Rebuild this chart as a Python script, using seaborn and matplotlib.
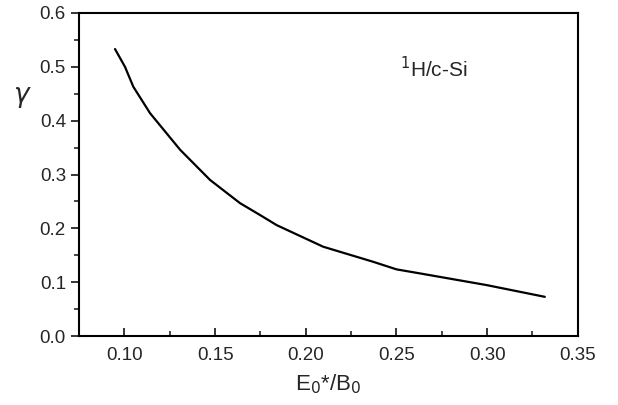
import pandas as pd
import matplotlib
matplotlib.use("Agg")
import matplotlib.pyplot as plt
import seaborn as sns

# curve
ratio = [0.0948, 0.1003, 0.1049, 0.1141, 0.1307, 0.1472, 0.1637, 0.1747, 0.184,
         0.2096, 0.2372, 0.250, 0.2629, 0.2997, 0.3318]
gamma = [0.533, 0.500, 0.463, 0.414, 0.346, 0.290, 0.247, 0.225, 0.206,
         0.166, 0.138, 0.124, 0.1165, 0.0948, 0.073]

x_ticks = [0.10, 0.15, 0.20, 0.25, 0.30, 0.35]
x_minor = [0.125, 0.175, 0.225, 0.275, 0.325]
y_ticks = [0.0, 0.1, 0.2, 0.3, 0.4, 0.5, 0.6]
y_minor = [0.05, 0.15, 0.25, 0.35, 0.45, 0.55]

sns.set_style("ticks")
plt.rcParams['font.family'] = ['Liberation Sans', 'DejaVu Sans']

df = pd.DataFrame({'ratio': ratio, 'gamma': gamma})

fig = plt.figure(figsize=(6.18, 4.05), dpi=100)
ax = fig.add_axes([0.128, 0.170, 0.807, 0.798])

sns.lineplot(data=df, x='ratio', y='gamma', color='black', linewidth=1.6, ax=ax, sort=False)

ax.set_xlim(0.075, 0.35)
ax.set_ylim(0.0, 0.6)
ax.set_xticks(x_ticks)
ax.set_xticklabels([f"{v:.2f}" for v in x_ticks])
ax.set_yticks(y_ticks)
ax.set_yticklabels([f"{v:.1f}" for v in y_ticks])
ax.set_xticks(x_minor, minor=True)
ax.set_yticks(y_minor, minor=True)

ax.tick_params(axis='x', which='major', direction='in', length=6, width=1.3, labelsize=13.5, pad=8)
ax.tick_params(axis='x', which='minor', direction='in', length=3.5, width=1.2)
ax.tick_params(axis='y', which='major', direction='out', length=6, width=1.3, labelsize=13.5)
ax.tick_params(axis='y', which='minor', direction='out', length=3.5, width=1.2)

for s in ax.spines.values():
    s.set_linewidth(1.5)
    s.set_color('black')

ax.set_xlabel(r"E$_0$*/B$_0$", fontsize=16, labelpad=6)
ax.set_ylabel("")
fig.text(22 / 618, 1 - 97 / 405, r"$\gamma$", fontsize=19, ha='center', va='center')

ax.text(0.643, 0.827, r"$^1$H/c-Si", transform=ax.transAxes, fontsize=15, ha='left', va='center')

fig.savefig("out.png", dpi=100)
